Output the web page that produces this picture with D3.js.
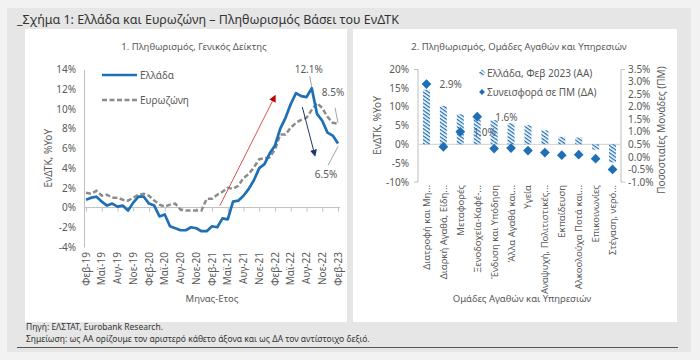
<!DOCTYPE html>
<html><head><meta charset="utf-8">
<script src="https://cdn.jsdelivr.net/npm/d3@7"></script>
<style>
html,body{margin:0;padding:0;background:#f2f2f2;}
svg{display:block;font-family:"Noto Sans",sans-serif;}
</style></head>
<body><svg id="c" width="700" height="360"></svg>
<script>
// ---- Data ----
const months = ["Φεβ-19","Μαρ-19","Απρ-19","Μαϊ-19","Ιουν-19","Ιουλ-19","Αυγ-19","Σεπ-19","Οκτ-19","Νοε-19","Δεκ-19",
"Ιαν-20","Φεβ-20","Μαρ-20","Απρ-20","Μαϊ-20","Ιουν-20","Ιουλ-20","Αυγ-20","Σεπ-20","Οκτ-20","Νοε-20","Δεκ-20",
"Ιαν-21","Φεβ-21","Μαρ-21","Απρ-21","Μαϊ-21","Ιουν-21","Ιουλ-21","Αυγ-21","Σεπ-21","Οκτ-21","Νοε-21","Δεκ-21",
"Ιαν-22","Φεβ-22","Μαρ-22","Απρ-22","Μαϊ-22","Ιουν-22","Ιουλ-22","Αυγ-22","Σεπ-22","Οκτ-22","Νοε-22","Δεκ-22",
"Ιαν-23","Φεβ-23"];
const greece = [0.8,1.0,1.1,0.6,0.2,0.4,0.1,0.2,-0.3,0.5,1.1,
1.1,0.4,0.2,-0.9,-0.7,-1.9,-2.1,-2.3,-2.3,-2.0,-2.1,-2.4,
-2.4,-1.9,-2.0,-1.1,-1.2,0.6,0.7,1.2,1.9,2.8,4.0,4.4,
5.5,6.3,8.0,9.1,10.5,11.6,11.3,11.2,12.1,9.5,8.8,7.6,
7.3,6.5];
const eurozone = [1.5,1.4,1.7,1.2,1.3,1.0,1.0,0.8,0.7,1.0,1.3,
1.4,1.2,0.7,0.3,0.1,0.3,0.4,-0.2,-0.3,-0.3,-0.3,-0.3,
0.9,0.9,1.3,1.6,2.0,1.9,2.2,3.0,3.4,4.1,4.9,5.0,
5.1,5.9,7.4,7.4,8.1,8.6,8.9,9.1,9.9,10.6,10.1,9.2,
8.6,8.5];
const leftTicks = [-4,-2,0,2,4,6,8,10,12,14];

const categories = ["Διατροφή και Μη...","Διαρκή Αγαθά, Είδη...","Μεταφορές","Ξενοδοχεία-Καφέ-...","Ένδυση και Υπόδηση","Άλλα Αγαθά και...","Υγεία","Αναψυχή, Πολιτιστικές...","Εκπαίδευση","Αλκοολούχα Ποτά και...","Επικοινωνίες","Στέγαση, νερό..."];
const groupInflation = [14.5,10.2,8.0,7.5,6.4,5.6,5.1,3.7,2.0,1.8,-1.4,-4.8];
const contribution = [2.9,0.4,1.0,1.6,0.33,0.35,0.25,0.17,0.07,0.09,-0.07,-0.5];
const contribLabels = [{i:0,t:"2.9%"},{i:2,t:"1.0%"},{i:3,t:"1.6%"}];
const rightLeftTicks = [-10,-5,0,5,10,15,20];
const rightRightTicks = [-1.0,-0.5,0.0,0.5,1.0,1.5,2.0,2.5,3.0,3.5];

// ---- Drawing ----
const svg = d3.select("#c");
const BLUE = "#1f6fb6", GREY="#8c8c8c", TXT="#595959";

svg.append("rect").attr("x",7).attr("y",8).attr("width",684).attr("height",344).attr("fill","#e6e6e6");
svg.append("rect").attr("x",25).attr("y",29).attr("width",322).attr("height",293).attr("fill","#fff");
svg.append("rect").attr("x",353).attr("y",29).attr("width",324).attr("height",293).attr("fill","#fff");
svg.append("text").attr("x",17).attr("y",24).attr("font-size",12.5).attr("fill","#333")
  .text("_Σχήμα 1: Ελλάδα και Ευρωζώνη – Πληθωρισμός Βάσει του ΕνΔΤΚ");
svg.append("text").attr("x",26).attr("y",330).attr("font-size",8.5).attr("fill","#333").text("Πηγή: ΕΛΣΤΑΤ, Eurobank Research.");
svg.append("text").attr("x",26).attr("y",342).attr("font-size",8.5).attr("fill","#333").text("Σημείωση: ως ΑΑ ορίζουμε τον αριστερό κάθετο άξονα και ως ΔΑ τον αντίστοιχο δεξιό.");
svg.append("line").attr("x1",17).attr("x2",678).attr("y1",347.5).attr("y2",347.5).attr("stroke","#555").attr("stroke-width",1);

// defs
const defs = svg.append("defs");
const pat = defs.append("pattern").attr("id","hatch").attr("patternUnits","userSpaceOnUse")
  .attr("width",3).attr("height",3).attr("patternTransform","rotate(35)");
pat.append("rect").attr("width",3).attr("height",1.3).attr("fill",BLUE);
defs.append("marker").attr("id","arrR").attr("viewBox","0 0 10 10").attr("refX",8).attr("refY",5)
  .attr("markerWidth",7).attr("markerHeight",7).attr("orient","auto-start-reverse")
  .append("path").attr("d","M0,0L10,5L0,10z").attr("fill","#c00000");
defs.append("marker").attr("id","arrB").attr("viewBox","0 0 10 10").attr("refX",8).attr("refY",5)
  .attr("markerWidth",7).attr("markerHeight",7).attr("orient","auto-start-reverse")
  .append("path").attr("d","M0,0L10,5L0,10z").attr("fill","#1f3864");

// ===== Left chart =====
const xL = d3.scaleLinear().domain([0, months.length-1]).range([86,338]);
const yL = d3.scaleLinear().domain([-4,14]).range([247,69.5]);

svg.append("text").attr("x",194).attr("y",50).attr("text-anchor","middle").attr("font-size",9.5).attr("fill",TXT)
  .text("1. Πληθωρισμός, Γενικός Δείκτης");

const gyL = svg.append("g").attr("transform","translate(84,0)")
  .call(d3.axisLeft(yL).tickValues(leftTicks).tickSize(0).tickPadding(8).tickFormat(d=>d+"%"));
gyL.select(".domain").attr("stroke","#bfbfbf");
gyL.selectAll("text").attr("font-size",10).attr("fill",TXT).attr("font-family","Noto Sans");

const tickIdx = d3.range(0, months.length, 3);
const gxL = svg.append("g").attr("transform",`translate(0,${yL(0)})`)
  .call(d3.axisBottom(xL).tickValues(tickIdx).tickSize(4).tickFormat(""));
gxL.select(".domain").attr("stroke","#bfbfbf").attr("d",`M84,0H340`);
gxL.selectAll(".tick line").attr("stroke","#bfbfbf");

svg.append("g").selectAll("text").data(tickIdx).join("text")
  .attr("transform",d=>`translate(${xL(d)+3.5},252) rotate(-90)`)
  .attr("text-anchor","end").attr("font-size",10).attr("fill",TXT).text(d=>months[d]);

svg.append("text").attr("x",212).attr("y",302).attr("text-anchor","middle").attr("font-size",9.5).attr("fill",TXT).text("Μηνας-Ετος");
svg.append("text").attr("transform",`translate(52,${(yL(14)+yL(-4))/2}) rotate(-90)`).attr("text-anchor","middle")
  .attr("font-size",10).attr("fill",TXT).text("ΕνΔΤΚ, %YoY");

const lineGen = d3.line().x((d,i)=>xL(i)).y(d=>yL(d));
svg.append("path").datum(eurozone).attr("d",lineGen).attr("fill","none").attr("stroke",GREY)
  .attr("stroke-width",2.5).attr("stroke-dasharray","5,2.5");
svg.append("path").datum(greece).attr("d",lineGen).attr("fill","none").attr("stroke",BLUE)
  .attr("stroke-width",2.7).attr("stroke-linejoin","round");

// legend
svg.append("line").attr("x1",102).attr("x2",137).attr("y1",75).attr("y2",75).attr("stroke",BLUE).attr("stroke-width",2.5);
svg.append("text").attr("x",140).attr("y",78.5).attr("font-size",10).attr("fill",TXT).text("Ελλάδα");
svg.append("line").attr("x1",102).attr("x2",137).attr("y1",100).attr("y2",100).attr("stroke",GREY).attr("stroke-width",2.5).attr("stroke-dasharray","5,2.5");
svg.append("text").attr("x",140).attr("y",103.5).attr("font-size",10).attr("fill",TXT).text("Ευρωζώνη");

// arrows
svg.append("line").attr("x1",xL(25.5)).attr("y1",yL(0.2)).attr("x2",xL(36)).attr("y2",yL(11.3))
  .attr("stroke","#d9534f").attr("stroke-width",1).attr("marker-end","url(#arrR)");
svg.append("line").attr("x1",xL(41.2)).attr("y1",yL(10.2)).attr("x2",xL(43.6)).attr("y2",yL(5.3))
  .attr("stroke","#1f3864").attr("stroke-width",1).attr("marker-end","url(#arrB)");

// annotations
const iPk = greece.indexOf(d3.max(greece)), iLast = greece.length-1;
svg.append("line").attr("x1",xL(iPk)-2).attr("y1",yL(greece[iPk])-12).attr("x2",xL(iPk)).attr("y2",yL(greece[iPk])-1).attr("stroke","#8c8c8c").attr("stroke-width",0.8);
svg.append("text").attr("x",xL(iPk)-3).attr("y",yL(greece[iPk])-15).attr("text-anchor","middle").attr("font-size",10).attr("fill",TXT).text(greece[iPk].toFixed(1)+"%");
svg.append("line").attr("x1",xL(iLast)-3).attr("y1",yL(eurozone[iLast])-16).attr("x2",xL(iLast)).attr("y2",yL(eurozone[iLast])-1).attr("stroke","#8c8c8c").attr("stroke-width",0.8);
svg.append("text").attr("x",xL(iLast)-5).attr("y",yL(eurozone[iLast])-28).attr("text-anchor","middle").attr("font-size",10).attr("fill",TXT).text(eurozone[iLast].toFixed(1)+"%");
svg.append("line").attr("x1",xL(iLast)).attr("y1",yL(greece[iLast])+3).attr("x2",xL(iLast)-10).attr("y2",yL(greece[iLast])+22).attr("stroke","#8c8c8c").attr("stroke-width",0.8);
svg.append("text").attr("x",xL(iLast)-12).attr("y",yL(greece[iLast])+35).attr("text-anchor","middle").attr("font-size",10).attr("fill",TXT).text(greece[iLast].toFixed(1)+"%");

// ===== Right chart =====
const xR = d3.scaleBand().domain(categories).range([418,621]);
const yR = d3.scaleLinear().domain([-10,20]).range([182,69]);
const yR2 = d3.scaleLinear().domain([-1,3.5]).range([182,69]);

svg.append("text").attr("x",519).attr("y",50).attr("text-anchor","middle").attr("font-size",9.5).attr("fill",TXT)
  .text("2. Πληθωρισμός, Ομάδες Αγαθών και Υπηρεσιών");

const gyR = svg.append("g").attr("transform","translate(418,0)")
  .call(d3.axisLeft(yR).tickValues(rightLeftTicks).tickSize(0).tickPadding(9).tickFormat(d=>d+"%"));
gyR.select(".domain").attr("stroke","#bfbfbf").attr("d","M-4,69.5H0V182H-4");
gyR.selectAll("text").attr("font-size",10).attr("fill",TXT).attr("font-family","Noto Sans");

const gyR2 = svg.append("g").attr("transform","translate(621,0)")
  .call(d3.axisRight(yR2).tickValues(rightRightTicks).tickSize(0).tickPadding(7).tickFormat(d=>d.toFixed(1)+"%"));
gyR2.select(".domain").attr("stroke","#bfbfbf").attr("d","M4,69.5H0V182H4");
gyR2.selectAll("text").attr("font-size",10).attr("fill",TXT).attr("font-family","Noto Sans");

svg.append("line").attr("x1",418).attr("x2",621).attr("y1",yR(0)).attr("y2",yR(0)).attr("stroke","#d0d0d0");

svg.append("text").attr("transform",`translate(381,${(yR(20)+yR(-10))/2}) rotate(-90)`).attr("text-anchor","middle")
  .attr("font-size",10).attr("fill",TXT).text("ΕνΔΤΚ, %YoY");
svg.append("text").attr("transform",`translate(665,130) rotate(-90)`).attr("text-anchor","middle")
  .attr("font-size",10).attr("fill",TXT).text("Ποσοστιαίες Μονάδες (ΠΜ)");

svg.append("g").selectAll("text").data(categories).join("text")
  .attr("transform",d=>`translate(${xR(d)+xR.bandwidth()/2+3.5},185) rotate(-90)`)
  .attr("text-anchor","end").attr("font-size",9.5).attr("fill",TXT).text(d=>d);
svg.append("text").attr("x",522).attr("y",302).attr("text-anchor","middle").attr("font-size",9.5).attr("fill",TXT).text("Ομάδες Αγαθών και Υπηρεσιών");

// labels (under bars)
svg.append("g").selectAll("text").data(contribLabels).join("text")
  .attr("x",d=>xR(categories[d.i])+xR.bandwidth()/2+(d.i===3?18:13))
  .attr("y",d=>yR2(contribution[d.i])+4).attr("font-size",10).attr("fill",TXT).text(d=>d.t);

const bw = 7;
svg.append("g").selectAll("rect").data(groupInflation).join("rect")
  .attr("x",(d,i)=>xR(categories[i])+xR.bandwidth()/2-bw/2).attr("width",bw)
  .attr("y",d=>yR(Math.max(0,d))).attr("height",d=>Math.abs(yR(d)-yR(0)))
  .attr("fill","url(#hatch)");

const dia = d3.symbol().type(d3.symbolDiamond2).size(60);
svg.append("g").selectAll("path").data(contribution).join("path")
  .attr("transform",(d,i)=>`translate(${xR(categories[i])+xR.bandwidth()/2},${yR2(d)})`)
  .attr("d",dia).attr("fill",BLUE);

// legend right
svg.append("path").attr("transform","translate(482,73)").attr("d",d3.symbol().type(d3.symbolDiamond2).size(30)).attr("fill","url(#hatch)");
svg.append("text").attr("x",487).attr("y",76.5).attr("font-size",10).attr("fill",TXT).text("Ελλάδα, Φεβ 2023 (ΑΑ)");
svg.append("path").attr("transform","translate(482,92)").attr("d",d3.symbol().type(d3.symbolDiamond2).size(22)).attr("fill",BLUE);
svg.append("text").attr("x",487).attr("y",95.5).attr("font-size",10).attr("fill",TXT).text("Συνεισφορά σε ΠΜ (ΔΑ)");
</script></body></html>
